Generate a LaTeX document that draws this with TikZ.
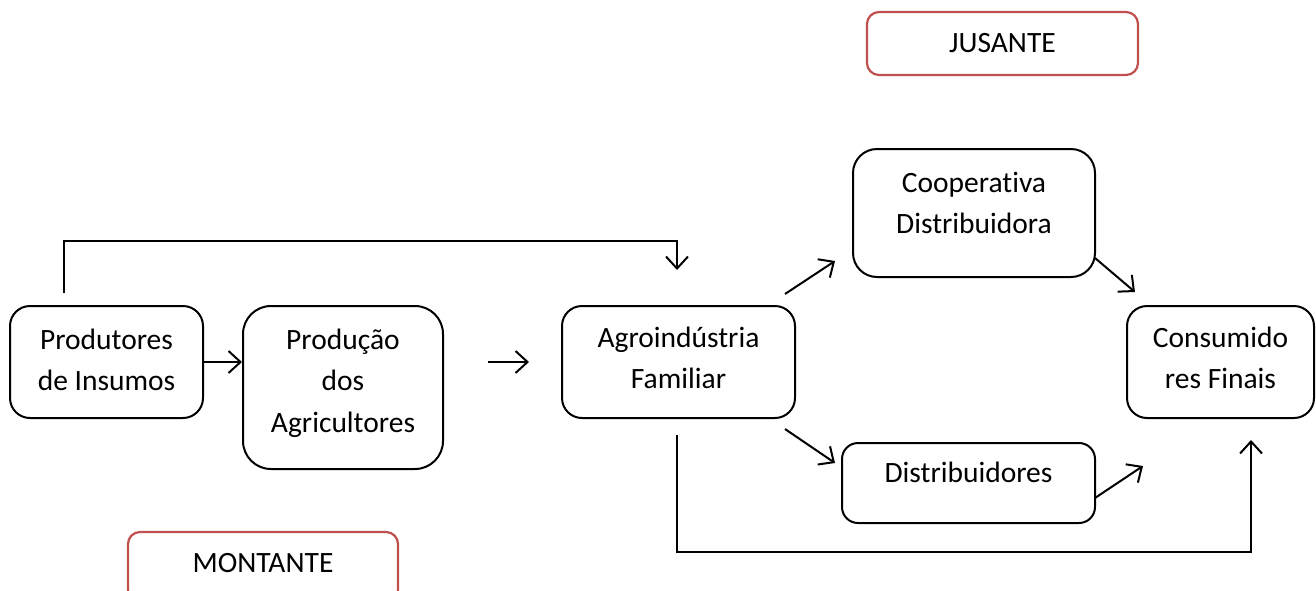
\documentclass[tikz,border=0pt]{standalone}
\usepackage{fontspec}
\setmainfont{Carlito}[RawFeature=-liga]
\usetikzlibrary{arrows.meta,calc}
\definecolor{redb}{RGB}{192,80,77}
\begin{document}
\begin{tikzpicture}[x=1pt,y=-1pt,
  box/.style={draw=black, line width=2pt, inner sep=0pt, fill=white},
  tagbox/.style={draw=redb, line width=2.2pt, inner sep=0pt, rounded corners=12pt},
  txt/.style={anchor=north, inner sep=0pt, align=center, font=\fontsize{29.5}{41.5}\selectfont},
  arr/.style={line width=2pt, -{Straight Barb[length=12pt,width=22pt,line width=2pt]}},
  con/.style={line width=2pt}]
\clip (0,0) rectangle (1316,590);
\useasboundingbox (0,0) rectangle (1316,590);
% boxes
\node[box, rounded corners=20pt, minimum width=193pt, minimum height=112pt] (ins) at (106.5,362) {};
\node[box, rounded corners=28pt, minimum width=200pt, minimum height=163pt] (prodag) at (343,387.5) {};
\node[box, rounded corners=20pt, minimum width=233pt, minimum height=112pt] (agro) at (678.5,362) {};
\node[box, rounded corners=24pt, minimum width=242pt, minimum height=128pt] (coop) at (974,213) {};
\node[box, rounded corners=16pt, minimum width=253pt, minimum height=80pt] (dist) at (968.5,483) {};
\node[box, rounded corners=20pt, minimum width=187pt, minimum height=112pt] (cons) at (1220.5,362) {};
\node[tagbox, minimum width=271pt, minimum height=63pt] (jus) at (1002.5,43.5) {};
\node[tagbox, minimum width=270pt, minimum height=70pt] (mon) at (263,567) {};
% texts
\node[txt] (tins) at (ins.north) {\rule{0pt}{44pt}Produtores\\de Insumos};
\node[txt] (tprodag) at (prodag.north) {\rule{0pt}{44pt}Produção\\dos\\Agricultores};
\node[txt] (tagro) at (agro.north) {\rule{0pt}{42pt}Agroindústria\\Familiar};
\node[txt] (tcoop) at (coop.north) {\rule{0pt}{44pt}Cooperativa\\Distribuidora};
\node[txt] (tdist) at (dist.north) {\rule{0pt}{40pt}Distribuidores};
\node[txt] (tcons) at (cons.north) {\rule{0pt}{42pt}Consumido\\res Finais};
\node[txt] (tjus) at (jus.north) {\rule{0pt}{41pt}JUSANTE};
\node[txt] (tmon) at (mon.north) {\rule{0pt}{41pt}MONTANTE};
% free ends
\coordinate (t0) at (64,293);
\coordinate (t1) at (677,270);
\coordinate (ac0) at (785,294);
\coordinate (ac1) at (835,261);
\coordinate (ad0) at (785,429);
\coordinate (ad1) at (835,463);
\coordinate (b0) at (677,435);
\coordinate (b1) at (1251,440);
\coordinate (cc0) at (1095,258);
\coordinate (cc1) at (1135,292);
\coordinate (dc0) at (1095,498);
\coordinate (dc1) at (1143,466);
% connectors
\draw[arr] (ins.east) -- (ins.east -| prodag.west);
\draw[arr, shorten <=44pt, shorten >=32pt] (prodag.east |- agro.west) -- (agro.west);
\draw[arr] (t0) -- ++(0,-52) -| (t1);
\draw[arr] (ac0) -- (ac1);
\draw[arr] (ad0) -- (ad1);
\draw[arr] (b0) |- ++(300,117) -| (b1);
\draw[arr] (cc0) -- (cc1);
\draw[arr] (dc0) -- (dc1);
\end{tikzpicture}
\end{document}
